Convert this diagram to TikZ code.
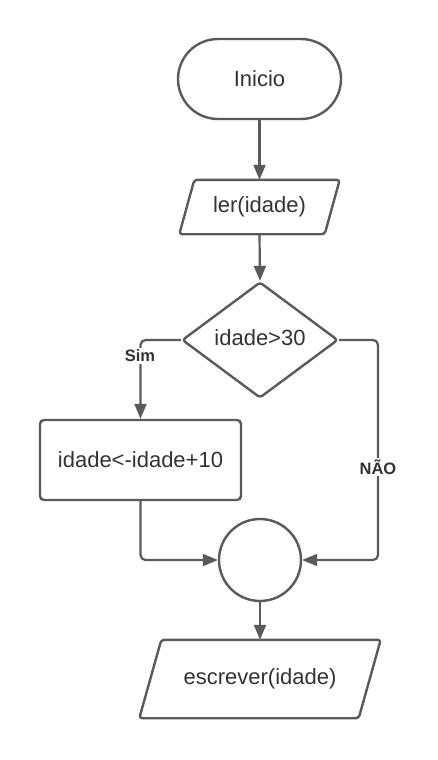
\documentclass[tikz,border=0pt]{standalone}
\usepackage{fontspec}
\setmainfont{Liberation Sans}
\usetikzlibrary{arrows.meta,shapes.geometric,calc}
\definecolor{lc}{HTML}{5A5A5A}
\definecolor{tc}{HTML}{333333}
\begin{document}
\begin{tikzpicture}[x=1pt,y=-1pt,
  every node/.style={text=tc,font=\fontsize{22}{26}\selectfont},
  shp/.style={draw=lc,line width=2.4pt,fill=white},
  conn/.style={draw=lc,line width=2.2pt,-{Triangle[length=15pt,width=12pt]},rounded corners=5pt},
  lbl/.style={fill=white,font=\fontsize{16.5}{19}\bfseries\selectfont,inner sep=2pt,text=tc}]
\useasboundingbox (0,0) rectangle (438,760);
% Inicio
\node[shp,rounded corners=40pt,minimum width=163pt,minimum height=80pt,inner sep=0pt] (ini) at (259.5,79) {Inicio};
% ler(idade)
\node[minimum width=145pt,minimum height=54pt,inner sep=0pt] (ler) at (259.5,207) {};
\draw[shp,rounded corners=3pt] ($(ler.north west)+(7.5,0)$) -- ($(ler.north east)+(7.5,0)$) -- ($(ler.south east)+(-7.5,0)$) -- ($(ler.south west)+(-7.5,0)$) -- cycle;
\node at (ler) {ler(idade)};
% decision
\node[shp,diamond,minimum width=156pt,minimum height=116pt,inner sep=0pt,rounded corners=3pt] (dec) at (260,340) {};
\node at (260,338) {idade>30};
% process
\node[shp,rounded corners=4pt,minimum width=201pt,minimum height=80pt,inner sep=0pt] (box) at (140.5,460) {idade<-idade+10};
% merge
\node[shp,circle,minimum size=82pt,inner sep=0pt] (mrg) at (260,560) {};
% escrever(idade)
\node[minimum width=219pt,minimum height=78pt,inner sep=0pt] (esc) at (260,679) {};
\draw[shp,rounded corners=3pt] ($(esc.north west)+(11,0)$) -- ($(esc.north east)+(11,0)$) -- ($(esc.south east)+(-11,0)$) -- ($(esc.south west)+(-11,0)$) -- cycle;
\node at (esc) {escrever(idade)};
% connectors
\coordinate (nr) at (378,340);
\draw[conn] (ini.south) -- (ler.north);
\draw[conn] (ler.south) -- (dec.north);
\draw[conn] (dec.west) -| (box.north);
\draw[conn] (dec.east) -- (nr) |- (mrg.east);
\draw[conn] (box.south) |- (mrg.west);
\draw[conn] (mrg.south) -- (esc.north);
\node[lbl] (sim) at (140,356) {Sim};
\node[lbl] (nao) at (378,467) {NÃO};
\end{tikzpicture}
\end{document}
